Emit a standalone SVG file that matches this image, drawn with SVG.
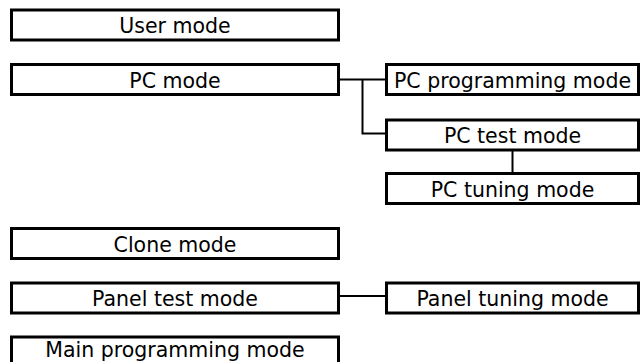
<svg xmlns="http://www.w3.org/2000/svg" width="642" height="362" viewBox="0 0 642 362">
<style>
.box{fill:#fff;stroke:#000;stroke-width:3}
.lbl{font-family:"DejaVu Sans",sans-serif;font-size:20.5px;fill:#000;text-anchor:middle}
.conn{fill:none;stroke:#000;stroke-width:2}
</style>
<rect width="642" height="362" fill="#fff"/>
<g id="connectors">
<path class="conn" d="M340 79.5H385"/>
<path class="conn" d="M362.5 79.5V133.5H385"/>
<path class="conn" d="M512.5 151V172"/>
<path class="conn" d="M340 296H385"/>
</g>
<g id="user-mode"><rect class="box" x="11.5" y="10" width="327" height="30"/><text class="lbl" x="175" y="33.3">User mode</text></g>
<g id="pc-mode"><rect class="box" x="11.5" y="64.5" width="327" height="30"/><text class="lbl" x="175" y="87.8">PC mode</text></g>
<g id="pc-programming-mode"><rect class="box" x="386.5" y="64.5" width="252" height="30"/><text class="lbl" x="512.5" y="87.5">PC programming mode</text></g>
<g id="pc-test-mode"><rect class="box" x="386.5" y="120" width="252" height="30"/><text class="lbl" x="512.5" y="143.3">PC test mode</text></g>
<g id="pc-tuning-mode"><rect class="box" x="386.5" y="173.5" width="252" height="30"/><text class="lbl" x="512.5" y="196.8">PC tuning mode</text></g>
<g id="clone-mode"><rect class="box" x="11.5" y="228.5" width="327" height="30"/><text class="lbl" x="175" y="251.8">Clone mode</text></g>
<g id="panel-test-mode"><rect class="box" x="11.5" y="283" width="327" height="30"/><text class="lbl" x="175" y="306.3">Panel test mode</text></g>
<g id="panel-tuning-mode"><rect class="box" x="386.5" y="283" width="252" height="30"/><text class="lbl" x="512.5" y="306.3">Panel tuning mode</text></g>
<g id="main-programming-mode"><rect class="box" x="11.5" y="337" width="327" height="30"/><text class="lbl" x="175" y="356.5">Main programming mode</text></g>
</svg>
